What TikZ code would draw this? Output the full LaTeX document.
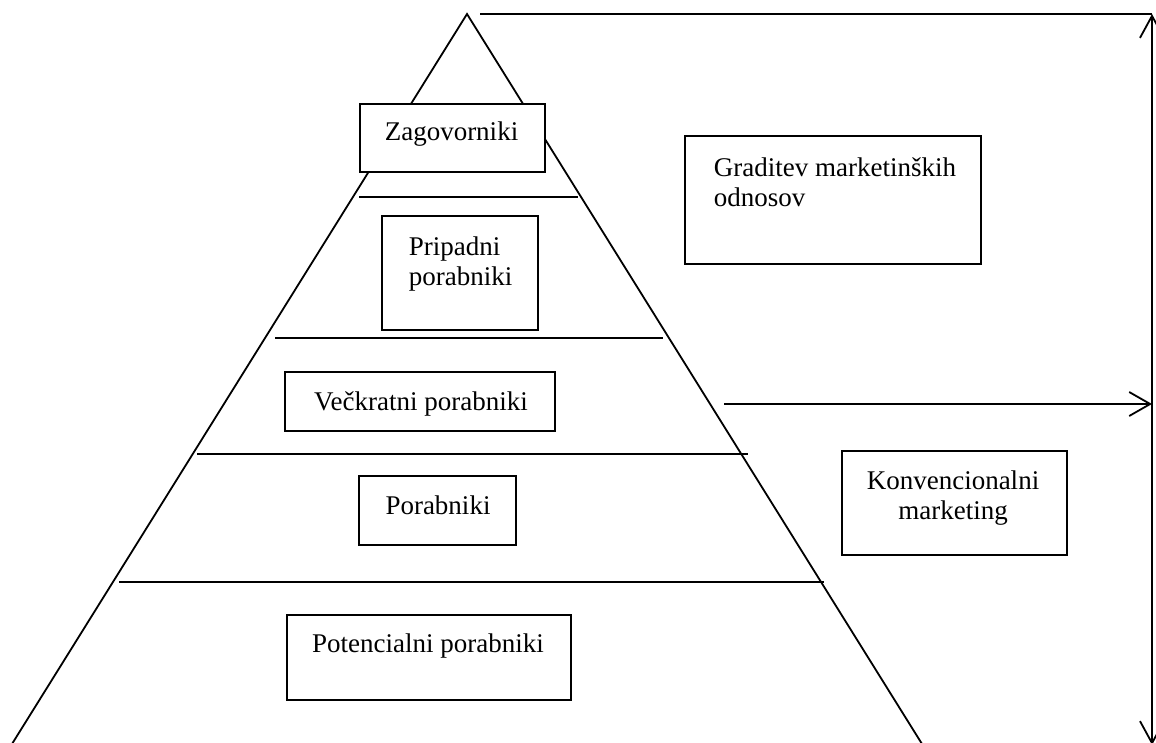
\documentclass[tikz,border=0pt]{standalone}
\usepackage{fontspec}
\setmainfont{Liberation Serif}
\usetikzlibrary{arrows.meta}

\begin{document}
\begin{tikzpicture}[x=1pt,y=-1pt,line width=1.8pt,
 box node/.style={draw,fill=white,inner sep=0pt},
 txt/.style={inner sep=0pt,font=\fontsize{27}{30}\selectfont},
 barb end/.style={-{Straight Barb[length=21pt,width=24pt]}},
 barb both/.style={{Straight Barb[length=22pt,width=24pt]}-{Straight Barb[length=22pt,width=24pt]}}]

  \useasboundingbox (0,0) rectangle (1156,742);
  \clip (0,0) rectangle (1156,742);

  % pyramid
  \coordinate (apex) at (467,14);
  \coordinate (base left) at (2,760);
  \coordinate (base right) at (932,760);
  \draw[line join=miter] (base left) -- (apex) -- (base right);

  \foreach \y/\a/\b in {197/359/578, 338/275/663, 454/197/748, 582/119/824} {
   \draw (\a,\y) -- (\b,\y);}

  % boxes
  \foreach \n/\a/\b/\c/\d in {zag/360/104/545/172, prip/382/216/538/330,
   vec/285/372/555/431, por/359/476/516/545, pot/287/615/571/700,
   grad/685/136/981/264, konv/842/451/1067/555} {
   \node[box node, minimum width={\c-\a}, minimum height={\d-\b}] (\n)
    at ({(\a+\c)/2},{(\b+\d)/2}) {};}

  \node[txt, anchor=base] (zag text) at (451.5,140) {Zagovorniki};
  \node[txt, anchor=north west, align=left] (prip text) at (408,235.6) {Pripadni\\porabniki};
  \node[txt, anchor=base] (vec text) at (421,410) {Večkratni porabniki};
  \node[txt, anchor=base] (por text) at (438,514) {Porabniki};
  \node[txt, anchor=base] (pot text) at (428,652) {Potencialni porabniki};
  \node[txt, anchor=north west, align=left] (grad text) at (713,156.6) {Graditev marketinških\\odnosov};
  \node[txt, anchor=north, align=center] (konv text) at (953,469.6) {Konvencionalni\\marketing};

  % arrows on the right
  \coordinate (top start) at (480,14);
  \coordinate (top) at (1152,14);
  \coordinate (bottom) at (1152,745);
  \coordinate (mid start) at (724,404);
  \coordinate (mid) at (1152,404);
  \draw (top start) -- (top);
  \draw[barb both] (bottom) -- (top);
  \draw[barb end] (mid start) -- (mid);
\end{tikzpicture}
\end{document}
